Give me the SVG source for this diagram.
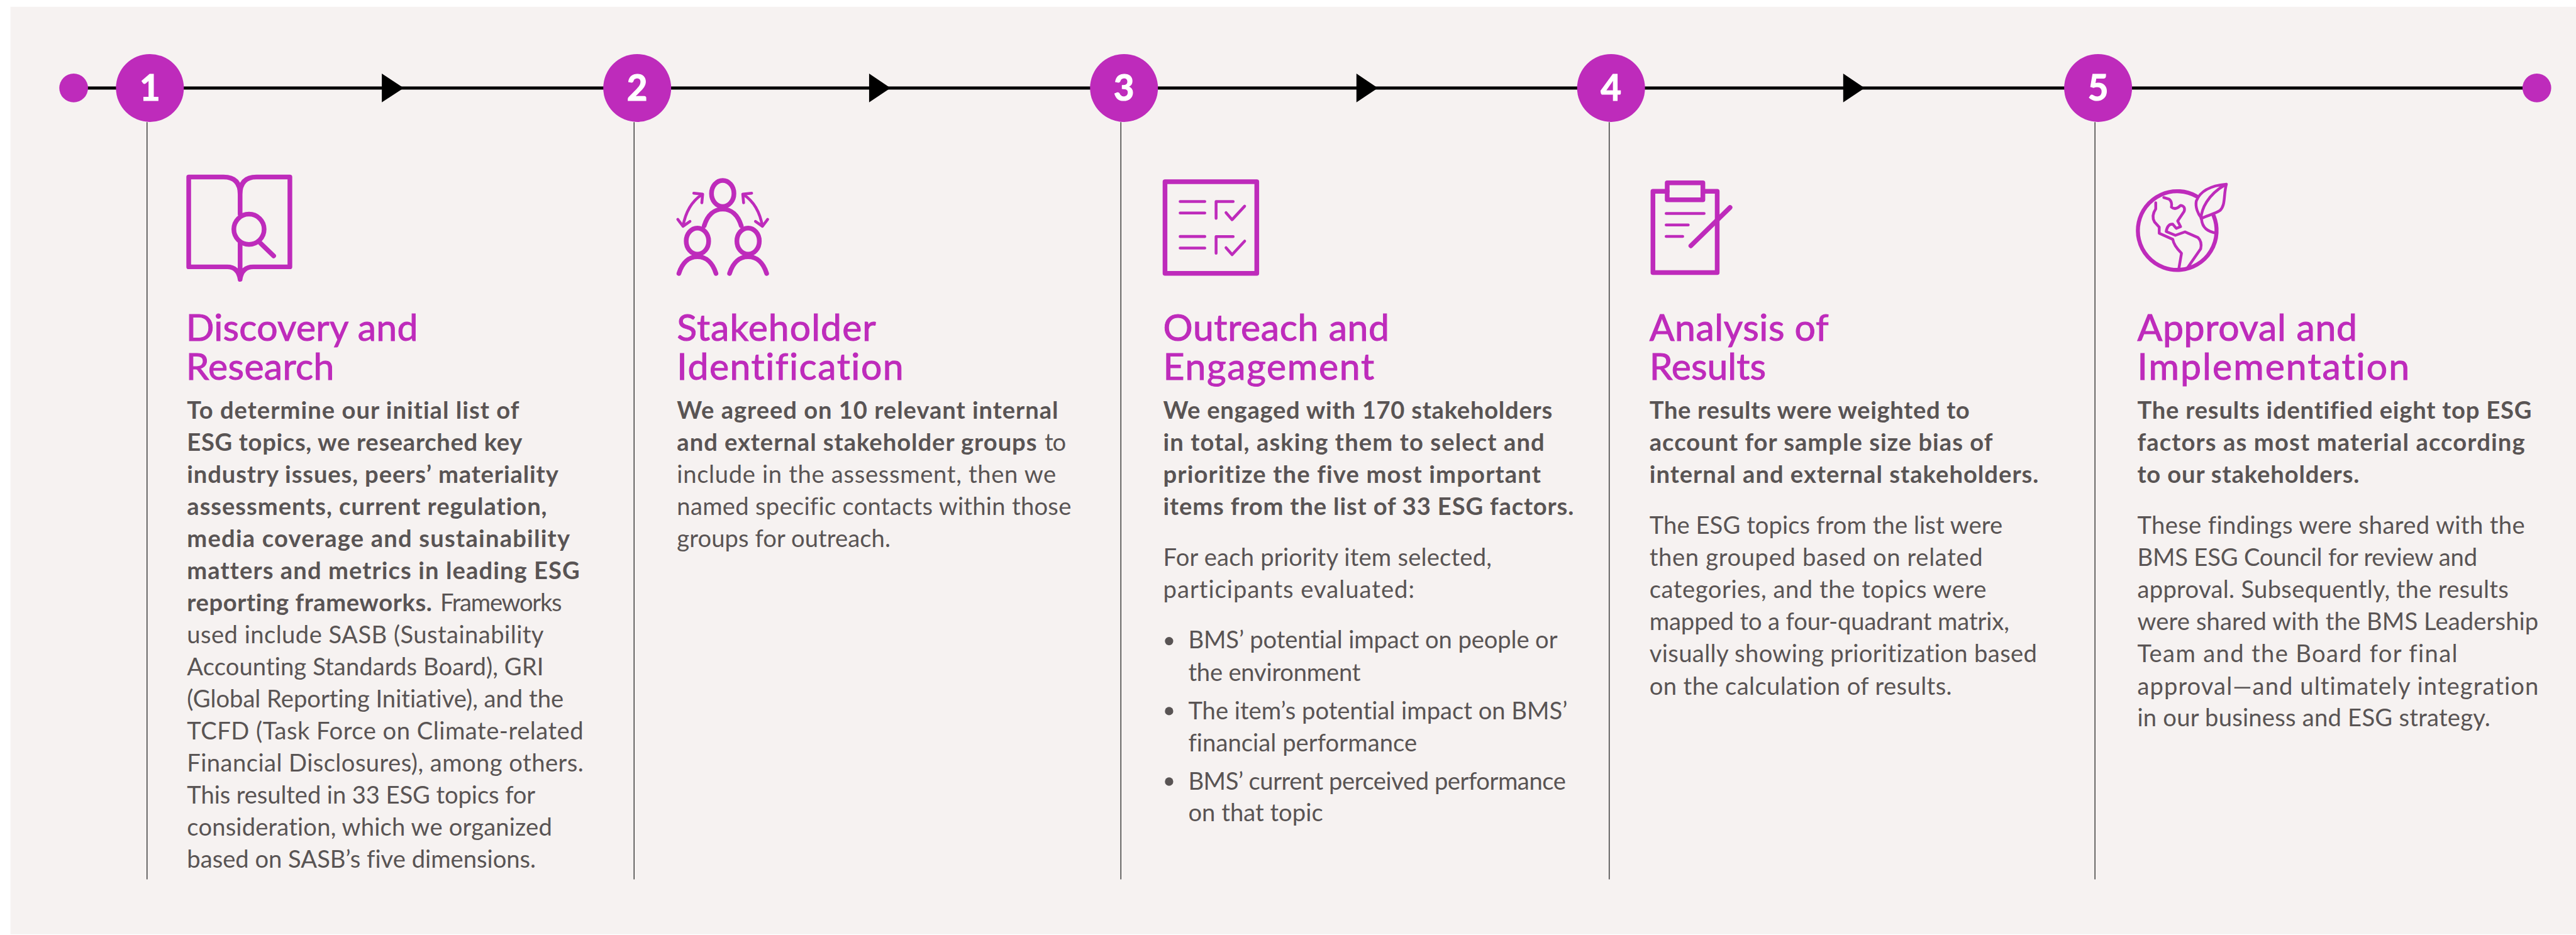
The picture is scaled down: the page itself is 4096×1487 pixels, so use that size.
<svg xmlns="http://www.w3.org/2000/svg" width="4096" height="1487" viewBox="0 0 4096 1487">
<style>
text{font-family:"Lato","Noto Sans","Liberation Sans",sans-serif;fill:#595454;font-variant-ligatures:none}
.b{font-size:46px}
.s{font-weight:700}
.h{font-size:71px;fill:#BE2BBB;stroke:#BE2BBB;stroke-width:1.2}
.n{font-size:68px;font-weight:700;fill:#fff;stroke:#fff;stroke-width:1.5;text-anchor:middle}
.o{fill:#BE2BBB}
.i{fill:none;stroke:#BE2BBB;stroke-width:9;stroke-linecap:round;stroke-linejoin:round}
.t{stroke-width:5.5}
.v{stroke:#333;stroke-width:1.7;fill:none}
.m{stroke:#000;stroke-width:6;fill:none}
</style>
<defs>
<g id="person"><ellipse cx="0" cy="0" rx="21.5" ry="25"/><path d="M-35.5 62C-29 41-16 30 0 30S29 41 35.5 62"/></g>
<path id="chk" d="M2328.3 418V386H2361M2347.3 407.3L2359 420.7L2383 394.8"/>
</defs>
<g transform="scale(0.8305)">
<rect x="20" y="13" width="4912" height="1776" fill="#F6F2F1"/>
<g id="connectors">
<path class="m" d="M141 168.5H4857"/>
<path d="M731 141L773 168.5L731 196Z"/>
<path d="M1664 141L1705 168.5L1664 196Z"/>
<path d="M2597 141L2638 168.5L2597 196Z"/>
<path d="M3529 141L3570 168.5L3529 196Z"/>
<path class="v" d="M281.5 234V1684M1214 234V1684M2146 234V1684M3081 234V1684M4011 234V1684"/>
</g>
<g id="start"><circle class="o" cx="141" cy="168.5" r="27.5"/></g>
<g id="end"><circle class="o" cx="4857" cy="168.5" r="27.5"/></g>

<g id="step1">
<circle class="o" cx="287" cy="168.5" r="65"/><text class="n" x="287" y="193">1</text>
<g class="i"><path d="M459.7 372Q459.7 339 428 339H361.3V511H435Q456 511 459.7 535Q463 511 485 511H555V339H491Q459.7 339 459.7 372V410M459.7 465V535"/><circle cx="476.7" cy="439" r="29"/><path d="M499 466L524 490"/></g>
<text class="h"><tspan x="356" y="653" textLength="444">Discovery and</tspan><tspan x="356" y="727" textLength="284">Research</tspan></text>
<g class="b" transform="translate(0 2)">
<text class="s" x="358" y="800" textLength="636">To determine our initial list of</text>
<text class="s" x="358" y="861.4" textLength="642">ESG topics, we researched key</text>
<text class="s" x="358" y="922.8" textLength="711">industry issues, peers’ materiality</text>
<text class="s" x="358" y="984.2" textLength="689">assessments, current regulation,</text>
<text class="s" x="358" y="1045.6" textLength="733">media coverage and sustainability</text>
<text class="s" x="358" y="1107" textLength="752">matters and metrics in leading ESG</text>
<text class="s" x="358" y="1168.4" textLength="469">reporting frameworks.</text>
<text x="843" y="1168.4" textLength="233">Frameworks</text>
<text x="358" y="1229.8" textLength="683">used include SASB (Sustainability</text>
<text x="358" y="1291.2" textLength="683">Accounting Standards Board), GRI</text>
<text x="358" y="1352.6" textLength="721">(Global Reporting Initiative), and the</text>
<text x="358" y="1414" textLength="759">TCFD (Task Force on Climate-related</text>
<text x="358" y="1475.4" textLength="759">Financial Disclosures), among others.</text>
<text x="358" y="1536.8" textLength="667">This resulted in 33 ESG topics for</text>
<text x="358" y="1598.2" textLength="699">consideration, which we organized</text>
<text x="358" y="1659.6" textLength="668">based on SASB’s five dimensions.</text>
</g>
</g>

<g id="step2">
<circle class="o" cx="1220" cy="168.5" r="65"/><text class="n" x="1220" y="193">2</text>
<g class="i" stroke-width="8.5">
<use href="#person" x="1383.7" y="370.5"/><use href="#person" x="1335.3" y="461.7"/><use href="#person" x="1432.3" y="461.7"/>
<path class="t" d="M1343 373Q1315 392 1307.7 433M1328.3 370L1345.3 371.7L1343.7 388.3M1297.7 420L1307.7 433.3L1321 424"/>
<path class="t" d="M1424.4 373Q1452.4 392 1459.7 433M1439.1 370L1422.1 371.7L1423.7 388.3M1469.7 420L1459.7 433.3L1446.4 424"/>
</g>
<text class="h"><tspan x="1296" y="653" textLength="381">Stakeholder</tspan><tspan x="1296" y="727" textLength="434">Identification</tspan></text>
<g class="b" transform="translate(0 2)">
<text class="s" x="1296" y="800" textLength="730">We agreed on 10 relevant internal</text>
<text class="s" x="1296" y="861.4" textLength="689">and external stakeholder groups</text>
<text x="2000" y="861.4" textLength="41">to</text>
<text x="1296" y="922.8" textLength="726">include in the assessment, then we</text>
<text x="1296" y="984.2" textLength="755">named specific contacts within those</text>
<text x="1296" y="1045.6" textLength="409">groups for outreach.</text>
</g>
</g>

<g id="step3">
<circle class="o" cx="2152" cy="168.5" r="65"/><text class="n" x="2152" y="193">3</text>
<g class="i"><rect x="2230.5" y="348" width="175.7" height="175.6"/>
<path class="t" d="M2259.5 386H2306.7M2259.5 407.8H2306.7M2259.5 452.9H2306.7M2259.5 475H2306.7"/>
<use href="#chk" class="t"/><use href="#chk" class="t" y="67"/></g>
<text class="h"><tspan x="2227" y="653" textLength="433">Outreach and</tspan><tspan x="2227" y="727" textLength="404">Engagement</tspan></text>
<g class="b" transform="translate(0 2)">
<text class="s" x="2227" y="800" textLength="745">We engaged with 170 stakeholders</text>
<text class="s" x="2227" y="861.4" textLength="730">in total, asking them to select and</text>
<text class="s" x="2227" y="922.8" textLength="723">prioritize the five most important</text>
<text class="s" x="2227" y="984.2" textLength="786">items from the list of 33 ESG factors.</text>
<text x="2227" y="1082" textLength="629">For each priority item selected,</text>
<text x="2227" y="1143" textLength="481">participants evaluated:</text>
<circle cx="2238.3" cy="1225.7" r="8" fill="#595454"/>
<circle cx="2238.3" cy="1359.7" r="8" fill="#595454"/>
<circle cx="2238.3" cy="1494.7" r="8" fill="#595454"/>
<text x="2275" y="1240" textLength="707">BMS’ potential impact on people or</text>
<text x="2275" y="1301.7" textLength="330">the environment</text>
<text x="2275" y="1375" textLength="726">The item’s potential impact on BMS’</text>
<text x="2275" y="1436.7" textLength="438">financial performance</text>
<text x="2275" y="1510" textLength="723">BMS’ current perceived performance</text>
<text x="2275" y="1570.7" textLength="258">on that topic</text>
</g>
</g>

<g id="step4">
<circle class="o" cx="3084.5" cy="168.5" r="65"/><text class="n" x="3084.5" y="193">4</text>
<g class="i" stroke-width="8"><path d="M3192 366.3H3164.7V522H3287.7V366.3H3260.3"/><rect x="3192" y="350" width="68.3" height="32.7"/>
<path class="t" d="M3190 408.7H3262.7M3190 430.7H3232.3M3190 452.7H3221.7"/><path d="M3237.3 470.7L3312.3 397.3"/></g>
<text class="h"><tspan x="3158" y="653" textLength="343">Analysis of</tspan><tspan x="3158" y="727" textLength="223">Results</tspan></text>
<g class="b" transform="translate(0 2)">
<text class="s" x="3158" y="800" textLength="613">The results were weighted to</text>
<text class="s" x="3158" y="861.4" textLength="657">account for sample size bias of</text>
<text class="s" x="3158" y="922.8" textLength="745">internal and external stakeholders.</text>
<text x="3158" y="1020.5" textLength="676">The ESG topics from the list were</text>
<text x="3158" y="1082" textLength="638">then grouped based on related</text>
<text x="3158" y="1143" textLength="645">categories, and the topics were</text>
<text x="3158" y="1205" textLength="689">mapped to a four-quadrant matrix,</text>
<text x="3158" y="1266" textLength="742">visually showing prioritization based</text>
<text x="3158" y="1328" textLength="579">on the calculation of results.</text>
</g>
</g>

<g id="step5">
<circle class="o" cx="4017" cy="168.5" r="65"/><text class="n" x="4017" y="193">5</text>
<g class="i" transform="translate(4070 330) scale(.3333)" style="stroke-width:16">
<path style="stroke-width:23" d="M405 137A226 226 0 1 0 505 250"/>
<path d="M578 68C500 75 430 100 405 165C398 200 415 240 435 265C460 250 510 240 540 220C575 190 560 130 578 68ZM570 72C470 130 435 210 432 265M435 270C440 320 470 340 520 350"/>
<path d="M218 145L250 155Q268 170 262 200Q285 220 315 190Q345 195 335 225L298 280L315 312L290 322L270 298Q240 295 232 340L285 362L340 342L415 375Q440 400 430 440L355 548"/>
<path d="M172 175V210Q145 250 165 285L192 315V350L270 385Q275 420 320 465L305 552"/>
</g>
<text class="h"><tspan x="4092" y="653" textLength="421">Approval and</tspan><tspan x="4092" y="727" textLength="521">Implementation</tspan></text>
<g class="b" transform="translate(0 2)">
<text class="s" x="4092" y="800" textLength="755">The results identified eight top ESG</text>
<text class="s" x="4092" y="861.4" textLength="742">factors as most material according</text>
<text class="s" x="4092" y="922.8" textLength="425">to our stakeholders.</text>
<text x="4092" y="1020.5" textLength="742">These findings were shared with the</text>
<text x="4092" y="1082" textLength="651">BMS ESG Council for review and</text>
<text x="4092" y="1143" textLength="711">approval. Subsequently, the results</text>
<text x="4092" y="1205" textLength="768">were shared with the BMS Leadership</text>
<text x="4092" y="1266" textLength="613">Team and the Board for final</text>
<text x="4092" y="1328" textLength="768">approval—and ultimately integration</text>
<text x="4092" y="1389" textLength="676">in our business and ESG strategy.</text>
</g>
</g>
</g>
</svg>
